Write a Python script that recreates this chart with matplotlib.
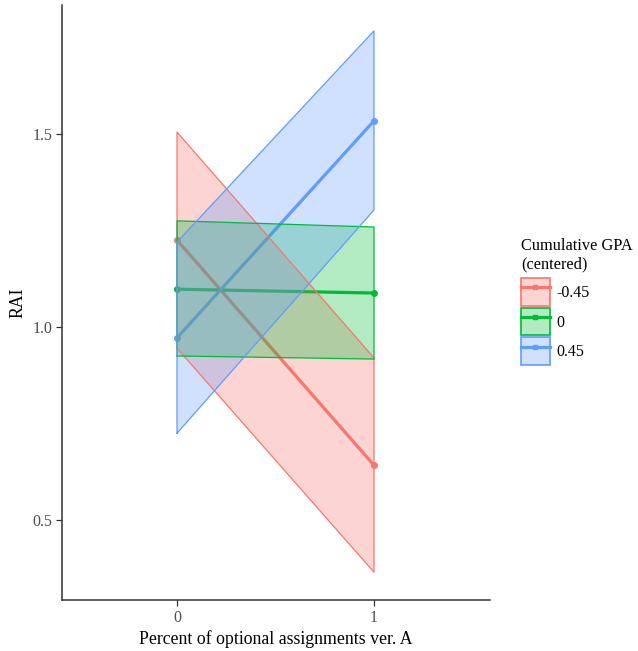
import matplotlib
matplotlib.use("Agg")
import matplotlib.pyplot as plt
from matplotlib.patches import Patch
from matplotlib.lines import Line2D

plt.rcParams['font.family'] = ['Liberation Serif', 'DejaVu Serif']

x = [0, 1]
groups = ["-0.45", "0", "0.45"]
colors = ["#F8766D", "#00BA38", "#619CFF"]
fit = [[1.225, 0.642], [1.098, 1.088], [0.972, 1.534]]
lower = [[0.945, 0.365], [0.925, 0.917], [0.725, 1.303]]
upper = [[1.505, 0.920], [1.275, 1.259], [1.220, 1.767]]

fig = plt.figure(figsize=(6.38, 6.51), dpi=100)
ax = fig.add_axes([62/638, 1-600/651, (490-62)/638, (600-5)/651])

for g, c, f in zip(groups, colors, fit):
    ax.plot(x, f, color=c, lw=2.3, marker='o', ms=4, zorder=1, solid_capstyle='butt')
for g, c, f, lo, up in zip(groups, colors, fit, lower, upper):
    ax.fill_between(x, lo, up, facecolor=c, alpha=0.3, edgecolor='none', zorder=2)
    ax.plot([0, 0, 1, 1, 0], [lo[0], up[0], up[1], lo[1], lo[0]], color=c, lw=0.9, zorder=3)

ax.set_xlim(-0.584, 1.589)
ax.set_ylim(0.293, 1.834)
ax.set_xticks([0, 1])
ax.set_xticklabels(["0", "1"])
ax.set_yticks([0.5, 1.0, 1.5])
ax.set_yticklabels(["0.5", "1.0", "1.5"])
for s in ['top', 'right']:
    ax.spines[s].set_visible(False)
for s in ['left', 'bottom']:
    ax.spines[s].set_color('#333333')
    ax.spines[s].set_linewidth(1.1)
ax.tick_params(axis='both', colors='#333333', labelcolor='#4D4D4D', labelsize=11.5, length=4, width=0.9, direction='out', pad=3)
ax.set_xlabel("Percent of optional assignments ver. A", fontsize=12.8, color='black', labelpad=3)
ax.set_ylabel("RAI", fontsize=12.8, color='black', labelpad=4)

handles = []
for c in colors:
    p = Patch(facecolor=c, alpha=0.3, edgecolor='none')
    pe = Patch(facecolor='none', edgecolor=c, lw=1.2)
    l = Line2D([], [], color=c, lw=2.3, marker='s', ms=3.5)
    handles.append((p, pe, l))
leg = fig.legend(handles, groups, title="Cumulative GPA\n(centered)", loc='upper left',
                 bbox_to_anchor=(521/638, 1-238/651), frameon=False, fontsize=11.5,
                 title_fontsize=11.8, handlelength=1.8, handleheight=2.3, labelspacing=0.12,
                 handletextpad=0.4, borderpad=0.0, borderaxespad=0.0)
leg._legend_box.align = "left"
leg._legend_box.sep = 4

fig.savefig("out.png", dpi=100)
